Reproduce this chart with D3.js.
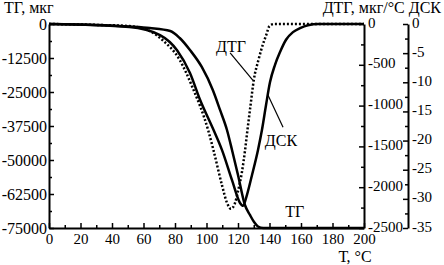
<!DOCTYPE html>
<html>
<head>
<meta charset="utf-8">
<script src="https://cdn.jsdelivr.net/npm/d3@7"></script>
<style>
  body { margin: 0; background: #fff; }
  svg { display: block; }
</style>
</head>
<body>
<div id="chart"></div>
<script>
// values (temperature in °C)
const tgTemp = [0, 32, 51, 64, 77, 83, 89.5, 97, 104, 108.6, 113, 116.2, 120, 124.4, 127.6, 130.2, 132.7, 136, 200];
const tgMass = [0, -370, -920, -1470, -2570, -5150, -9560, -15800, -24260, -31600, -38970, -46300, -55500, -66540, -70200, -72800, -74450, -75000, -75000];

const dtgTemp = [0, 32, 51, 64, 72, 83, 91, 101, 104.4, 109.8, 113, 115.5, 118, 120, 122.5, 124.5, 126, 128, 130, 133, 135, 138, 140, 143, 200];
const dtgRate = [0, -12, -25, -86, -196, -441, -772, -1299, -1544, -1973, -2190, -2265, -2200, -2050, -1814, -1544, -1299, -990, -690, -440, -300, -130, -25, 0, 0];

const dscTemp = [0, 51, 70.5, 81.3, 89.5, 95.9, 104.5, 109.8, 116.2, 121.3, 123.2, 125.7, 128.9, 132.7, 135.2, 137.8, 140.3, 143.5, 146.7, 150.5, 154.9, 159.4, 164.4, 171, 200];
const dscFlow = [0, -0.5, -1.9, -4.5, -8.4, -13, -18.2, -21.6, -26.8, -30.7, -31.2, -29.3, -25.9, -21.6, -18.2, -13.9, -10, -7, -4.8, -2.7, -1.4, -0.7, -0.2, 0, 0];

const tempTicks = [0, 20, 40, 60, 80, 100, 120, 140, 160, 180, 200];
const tgTicks = [0, -12500, -25000, -37500, -50000, -62500, -75000];
const dtgTicks = [0, -500, -1000, -1500, -2000, -2500];
const dscTicks = [0, -5, -10, -15, -20, -25, -30, -35];

const width = 444, height = 265;
const font = '"Liberation Serif", "Times New Roman", serif';

const svg = d3.select("#chart")
  .append("svg")
  .attr("width", width)
  .attr("height", height)
  .attr("font-family", font);

const x = d3.scaleLinear().domain([0, 200]).range([49, 364]);
const yTG = d3.scaleLinear().domain([0, -75000]).range([24, 228]);
const yDTG = d3.scaleLinear().domain([0, -2500]).range([24, 228]);
const yDSC = d3.scaleLinear().domain([0, -35]).range([24, 228]);

// halfway values for the small ticks
const mids = t => t.slice(1).map((d, i) => (d + t[i]) / 2);

function styleAxis(size) {
  return g => {
    g.attr("font-family", font).attr("font-size", size);
    g.select(".domain").attr("stroke-width", 2);
    g.selectAll(".tick line").attr("stroke-width", 1.5);
    g.selectAll(".tick text").attr("fill", "#000");
  };
}
function minorAxis(axis, values) {
  return g => {
    g.call(axis.tickValues(values).tickFormat("").tickSize(-3).tickSizeOuter(0));
    g.select(".domain").remove();
    g.selectAll(".tick line").attr("stroke-width", 1.5);
  };
}

// curves
const lineTG = d3.line().x(i => x(tgTemp[i])).y(i => yTG(tgMass[i])).curve(d3.curveMonotoneX);
const lineDTG = d3.line().x(i => x(dtgTemp[i])).y(i => yDTG(dtgRate[i])).curve(d3.curveMonotoneX);
const lineDSC = d3.line().x(i => x(dscTemp[i])).y(i => yDSC(dscFlow[i])).curve(d3.curveMonotoneX);

svg.append("path")
  .attr("d", lineDTG(d3.range(dtgTemp.length)))
  .attr("fill", "none").attr("stroke", "#000")
  .attr("stroke-width", 2.5).attr("stroke-dasharray", "2,2");
svg.append("path")
  .attr("d", lineDSC(d3.range(dscTemp.length)))
  .attr("fill", "none").attr("stroke", "#000").attr("stroke-width", 2.5);
svg.append("path")
  .attr("d", lineTG(d3.range(tgTemp.length)))
  .attr("fill", "none").attr("stroke", "#000").attr("stroke-width", 2.5);

// axes
svg.append("g").attr("transform", "translate(0,228)")
  .call(minorAxis(d3.axisBottom(x), mids(tempTicks)));
svg.append("g").attr("transform", "translate(0,228)")
  .call(d3.axisBottom(x).tickValues(tempTicks).tickFormat(String).tickSize(-5).tickSizeOuter(0).tickPadding(5))
  .call(styleAxis(15));

svg.append("g").attr("transform", "translate(49,0)")
  .call(minorAxis(d3.axisLeft(yTG), mids(tgTicks)));
svg.append("g").attr("transform", "translate(49,0)")
  .call(d3.axisLeft(yTG).tickValues(tgTicks).tickFormat(String).tickSize(-5).tickSizeOuter(0).tickPadding(2))
  .call(styleAxis(16));

svg.append("g").attr("transform", "translate(364,0)")
  .call(minorAxis(d3.axisRight(yDTG), mids(dtgTicks)));
svg.append("g").attr("transform", "translate(364,0)")
  .call(d3.axisRight(yDTG).tickValues(dtgTicks).tickFormat(String).tickSize(-5).tickSizeOuter(0).tickPadding(4))
  .call(styleAxis(15))
  .call(g => g.selectAll(".tick text").attr("dy", "0.2em"));

svg.append("g").attr("transform", "translate(408,0)")
  .call(minorAxis(d3.axisRight(yDSC), mids(dscTicks)));
svg.append("g").attr("transform", "translate(408,0)")
  .call(d3.axisRight(yDSC).tickValues(dscTicks).tickFormat(String).tickSize(-5).tickSizeOuter(0).tickPadding(4))
  .call(styleAxis(15))
  .call(g => g.selectAll(".tick text").attr("dy", "0.2em"));

// axis titles
svg.append("text").attr("x", 4).attr("y", 13).attr("font-size", 16).text("ТГ, мкг");
svg.append("text").attr("x", 441).attr("y", 13).attr("font-size", 16)
  .attr("text-anchor", "end").text("ДТГ, мкг/°С ДСК");
svg.append("text").attr("x", 355).attr("y", 262).attr("font-size", 16)
  .attr("text-anchor", "middle").text("Т, °С");

// curve labels with leaders
svg.append("text").attr("x", x(115.6)).attr("y", yDTG(-345)).attr("font-size", 16)
  .attr("text-anchor", "middle").text("ДТГ");
svg.append("line")
  .attr("x1", x(115)).attr("y1", yDTG(-355))
  .attr("x2", x(129.5)).attr("y2", yDTG(-690))
  .attr("stroke", "#000").attr("stroke-width", 1.2);

svg.append("text").attr("x", x(147.3)).attr("y", yDSC(-21)).attr("font-size", 16)
  .attr("text-anchor", "middle").text("ДСК");
svg.append("line")
  .attr("x1", x(139)).attr("y1", yDSC(-12.2))
  .attr("x2", x(148.6)).attr("y2", yDSC(-17.7))
  .attr("stroke", "#000").attr("stroke-width", 1.2);

svg.append("text").attr("x", x(156)).attr("y", yTG(-71000)).attr("font-size", 16)
  .attr("text-anchor", "middle").text("ТГ");
</script>
</body>
</html>
